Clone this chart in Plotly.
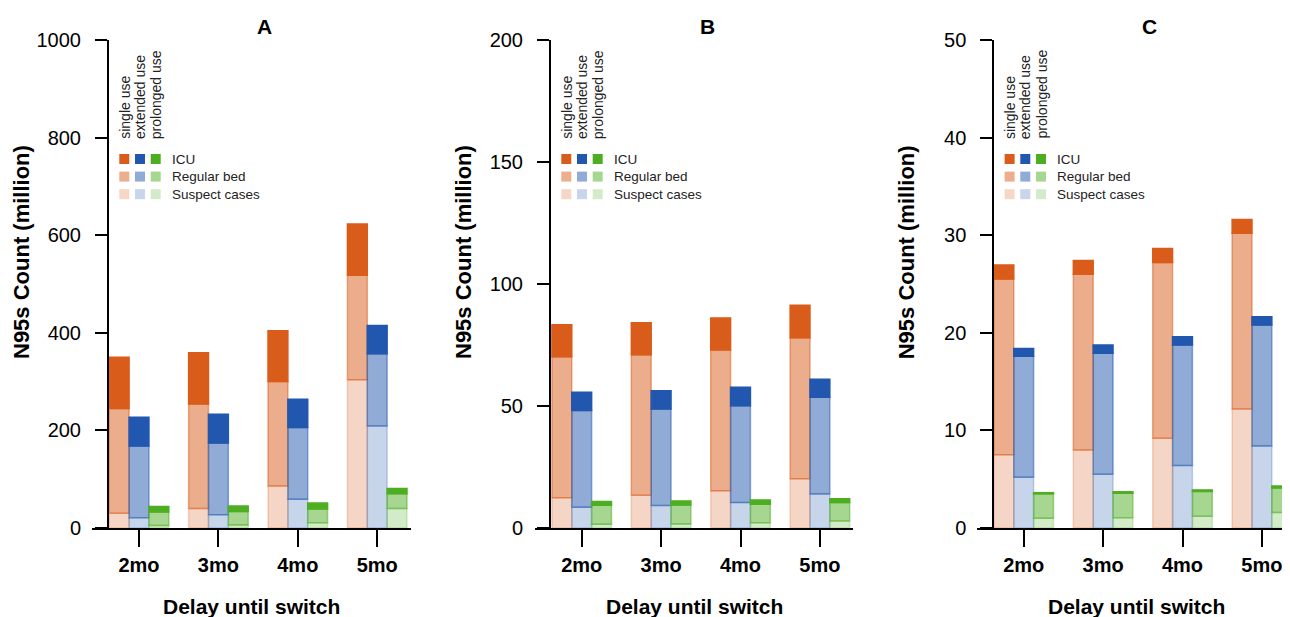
import plotly.graph_objects as go

# The page puts the figure 8 px in from the top-left corner, so the
# figure is sized to fill the rest of the 1290x617 window.
OFF = 8
W, H = 1290 - OFF, 617 - OFF

categories = ["2mo", "3mo", "4mo", "5mo"]
panel_titles = ["A", "B", "C"]
strategies = ["single use", "extended use", "prolonged use"]
levels = ["ICU", "Regular bed", "Suspect cases"]

# ---- Panel A (million N95s) ----
a_single_suspect = [30, 40, 86, 304]
a_single_regular = [215, 214, 214, 214]
a_single_icu = [105, 105, 104, 105]
a_extended_suspect = [21, 27, 59, 209]
a_extended_regular = [147, 147, 147, 148]
a_extended_icu = [59, 59, 58, 58]
a_prolonged_suspect = [5, 6, 11, 40]
a_prolonged_regular = [28, 28, 28, 30]
a_prolonged_icu = [11, 11, 12, 11]

# ---- Panel B ----
b_single_suspect = [12.4, 13.4, 15.3, 20.2]
b_single_regular = [57.8, 57.6, 57.7, 57.8]
b_single_icu = [13.1, 13.1, 13.1, 13.3]
b_extended_suspect = [8.5, 9.2, 10.5, 13.9]
b_extended_regular = [39.7, 39.6, 39.6, 39.7]
b_extended_icu = [7.4, 7.5, 7.6, 7.4]
b_prolonged_suspect = [1.5, 1.6, 2.2, 2.9]
b_prolonged_regular = [7.8, 7.8, 7.5, 7.5]
b_prolonged_icu = [1.6, 1.7, 1.8, 1.6]

# ---- Panel C ----
c_single_suspect = [7.5, 8.0, 9.2, 12.2]
c_single_regular = [18.0, 18.0, 18.0, 18.0]
c_single_icu = [1.45, 1.4, 1.45, 1.4]
c_extended_suspect = [5.2, 5.5, 6.4, 8.4]
c_extended_regular = [12.4, 12.4, 12.35, 12.4]
c_extended_icu = [0.8, 0.85, 0.85, 0.85]
c_prolonged_suspect = [1.0, 1.06, 1.2, 1.6]
c_prolonged_regular = [2.5, 2.5, 2.55, 2.5]
c_prolonged_icu = [0.12, 0.15, 0.15, 0.2]

y_max = [1000, 200, 50]
y_dtick = [200, 50, 10]

panels = [
    [(a_single_suspect, a_single_regular, a_single_icu),
     (a_extended_suspect, a_extended_regular, a_extended_icu),
     (a_prolonged_suspect, a_prolonged_regular, a_prolonged_icu)],
    [(b_single_suspect, b_single_regular, b_single_icu),
     (b_extended_suspect, b_extended_regular, b_extended_icu),
     (b_prolonged_suspect, b_prolonged_regular, b_prolonged_icu)],
    [(c_single_suspect, c_single_regular, c_single_icu),
     (c_extended_suspect, c_extended_regular, c_extended_icu),
     (c_prolonged_suspect, c_prolonged_regular, c_prolonged_icu)],
]

# ---- styling ----
base_rgb = [(217, 92, 26), (33, 87, 174), (78, 174, 34)]
alpha_for = {"Suspect cases": 0.25, "Regular bed": 0.5, "ICU": 1.0}
FONT = "Liberation Sans, Arial, Helvetica, sans-serif"


def rgba(rgb, a):
    return "rgba(%d,%d,%d,%.3f)" % (rgb[0], rgb[1], rgb[2], a)


def solid(rgb, a):
    return "rgb(%d,%d,%d)" % tuple(round(255 - a * (255 - c)) for c in rgb)


def px_x(px):
    return (px - OFF) / W


def px_y(py):
    return 1 - (py - OFF) / H


# pixel layout for each panel (window coordinates)
x_dom_px = [(92, 411), (535, 853), (977, 1290)]
yaxis_px = [108, 550, 993.3]
tick1_px = [139, 581.7, 1023.7]
pitch_px = 79.4
y_top_px, y_bot_px = 40, 528
bar_w = 0.25

fig = go.Figure()

for p in range(3):
    xa = "x" if p == 0 else "x%d" % (p + 1)
    ya = "y" if p == 0 else "y%d" % (p + 1)
    for s in range(3):
        suspect, regular, icu = panels[p][s]
        base0 = [0] * 4
        base1 = [a for a in suspect]
        base2 = [a + b for a, b in zip(suspect, regular)]
        for lvl, vals, base in (("Suspect cases", suspect, base0),
                                ("Regular bed", regular, base1),
                                ("ICU", icu, base2)):
            a = alpha_for[lvl]
            fig.add_trace(go.Bar(
                x=categories, y=vals, base=base,
                width=bar_w, offset=-1.5 * bar_w + s * bar_w,
                marker=dict(color=rgba(base_rgb[s], a),
                            line=dict(color=rgba(base_rgb[s], a), width=1.5)),
                name="%s – %s" % (strategies[s], lvl),
                showlegend=False, xaxis=xa, yaxis=ya,
            ))

layout = dict(
    width=W, height=H,
    margin=dict(l=0, r=0, t=0, b=0, pad=0, autoexpand=False),
    paper_bgcolor="white", plot_bgcolor="white",
    barmode="overlay",
    font=dict(family=FONT, color="black"),
    showlegend=False,
)

annotations = []
shapes = []

for p in range(3):
    xk = "xaxis" if p == 0 else "xaxis%d" % (p + 1)
    yk = "yaxis" if p == 0 else "yaxis%d" % (p + 1)
    ya = "y" if p == 0 else "y%d" % (p + 1)
    x0, x1 = x_dom_px[p]
    rmin = -(tick1_px[p] - x0) / pitch_px
    rmax = (x1 - tick1_px[p]) / pitch_px
    layout[xk] = dict(
        domain=[px_x(x0), min(1.0, px_x(x1))], anchor=ya, automargin=False,
        type="category", range=[rmin, rmax],
        showline=True, linecolor="black", linewidth=2,
        ticks="outside", ticklen=17, tickwidth=2, tickcolor="black",
        tickfont=dict(size=20, family=FONT, weight="bold", color="black"),
        ticklabelstandoff=1,
        showgrid=False, zeroline=False, fixedrange=True,
    )
    layout[yk] = dict(
        domain=[px_y(y_bot_px), px_y(y_top_px)], automargin=False,
        anchor="free", position=px_x(yaxis_px[p]),
        range=[0, y_max[p]], dtick=y_dtick[p], tick0=0,
        showline=True, linecolor="black", linewidth=2,
        ticks="outside", ticklen=12, tickwidth=2, tickcolor="black",
        tickfont=dict(size=20, family=FONT, color="black"),
        ticklabelstandoff=10,
        showgrid=False, zeroline=False, fixedrange=True,
    )
    # panel title
    annotations.append(dict(
        text="<b>%s</b>" % panel_titles[p], xref="paper", yref="paper",
        x=px_x(x0 + 319 / 2 + 12.5), y=px_y(27),
        showarrow=False, font=dict(size=21, family=FONT, color="black"),
        xanchor="center", yanchor="middle"))
    # x title
    annotations.append(dict(
        text="<b>Delay until switch</b>", xref="paper", yref="paper",
        x=px_x(x0 + 319 / 2), y=px_y(606),
        showarrow=False, font=dict(size=21, family=FONT, color="black"),
        xanchor="center", yanchor="middle"))
    # y title
    annotations.append(dict(
        text="<b>N95s Count (million)</b>", xref="paper", yref="paper",
        x=px_x(yaxis_px[p] - 86), y=px_y(252), textangle=-90,
        showarrow=False, font=dict(size=22, family=FONT, color="black"),
        xanchor="center", yanchor="middle"))
    # custom legend
    ax = yaxis_px[p]
    for s in range(3):
        cx = ax + 16.3 + 15.7 * s
        annotations.append(dict(
            text=strategies[s], xref="paper", yref="paper",
            x=px_x(cx), y=px_y(141), textangle=-90,
            showarrow=False, font=dict(size=14, family=FONT, color="#222"),
            xanchor="center", yanchor="bottom"))
        for r, lvl in enumerate(levels):
            yc = 159 + 17.6 * r
            shapes.append(dict(
                type="rect", xref="paper", yref="paper",
                x0=px_x(cx - 5), x1=px_x(cx + 5),
                y0=px_y(yc + 5), y1=px_y(yc - 5),
                fillcolor=solid(base_rgb[s], alpha_for[lvl]), line=dict(width=0)))
    for r, lvl in enumerate(levels):
        yc = 159 + 17.6 * r
        annotations.append(dict(
            text=lvl, xref="paper", yref="paper",
            x=px_x(ax + 62), y=px_y(yc),
            showarrow=False, font=dict(size=13.5, family=FONT, color="#222"),
            xanchor="left", yanchor="middle"))

layout["annotations"] = annotations
layout["shapes"] = shapes
fig.update_layout(**layout)

fig.write_html("out.html")
